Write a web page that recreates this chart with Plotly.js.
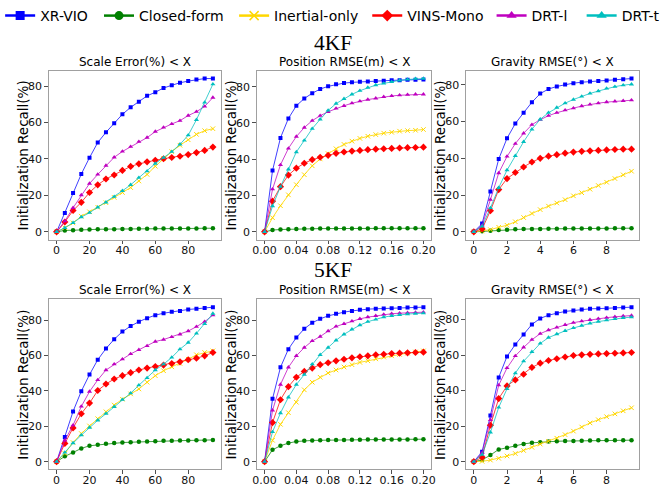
<!DOCTYPE html>
<html>
<head>
<meta charset="utf-8">
<script src="https://cdn.plot.ly/plotly-3.0.1.min.js"></script>
<style>html,body{margin:0;padding:0;background:#fff;}#chart{width:665px;height:487px;}</style>
</head>
<body>
<div id="chart"></div>
<script>
// ---------------- DATA ----------------
var seriesNames = ["XR-VIO", "Closed-form", "Inertial-only", "VINS-Mono", "DRT-l", "DRT-t"];
var groupTitles = ["4KF", "5KF"];
var panelTitles = ["Scale Error(%) < X", "Position RMSE(m) < X", "Gravity RMSE(°) < X"];
var yAxisLabel = "Initialization Recall(%)";

var xScale = [0,5,10,15,20,25,30,35,40,45,50,55,60,65,70,75,80,85,90,95];
var xPos = [0,0.01,0.02,0.03,0.04,0.05,0.06,0.07,0.08,0.09,0.10,0.11,0.12,0.13,0.14,0.15,0.16,0.17,0.18,0.19,0.20];
var xGrav = [0,0.5,1,1.5,2,2.5,3,3.5,4,4.5,5,5.5,6,6.5,7,7.5,8,8.5,9,9.5];

var xTicksScale = [0,20,40,60,80];
var xTicksPos = [0,0.04,0.08,0.12,0.16,0.20];
var xTicksGrav = [0,2,4,6,8];
var yTicks = [0,20,40,60,80];

// 4KF - Scale error
var s4_xr = [0,10.3,21.3,31.7,40.7,49,54.6,59.6,64.5,68.3,71.4,74.6,76.6,78.9,80.4,81.8,82.7,83.6,84.1,84.1];
var s4_cf = [0,0.8,0.9,1.2,1.3,1.4,1.5,1.5,1.6,1.6,1.7,1.7,1.8,1.8,1.8,1.9,1.9,1.9,2.0,2.0];
var s4_in = [0,2.2,4.9,8.6,11,13.5,16,18.9,21.6,24.3,27.9,31.5,36,40.2,44,47.5,50.5,53.5,55.5,56.6];
var s4_vm = [0,5.4,11.7,16.2,21.6,25.8,29,31.2,33.7,35.9,37.3,38.4,39.3,40.1,40.8,41.5,42.4,43.5,44.7,46.5];
var s4_dl = [0,5.9,13.2,20.2,26.5,31.5,36.4,40.9,44.1,46.7,49.5,51.7,55,57.3,59.2,61,63.8,65.9,68.8,73.7];
var s4_dt = [0,2.2,5,8.1,10.5,13.5,16.2,19.3,22.5,25.8,29.7,33.3,37.5,40.7,44,48,53,61.5,71,81];

// 4KF - Position RMSE
var p4_xr = [0,33.8,51.8,62.5,69.5,73.5,76.4,78.7,80.2,81.3,82,82.4,82.7,82.9,83.1,83.3,83.5,83.6,83.8,83.8,84];
var p4_cf = [0,1.0,1.3,1.5,1.6,1.7,1.7,1.8,1.8,1.8,1.9,1.9,1.9,1.9,2.0,2.0,2.0,2.0,2.0,2.0,2.0];
var p4_in = [0,7.8,14.4,20.4,26,31.5,36.4,40.2,43.1,45.8,48.2,50,51.5,52.7,53.6,54.4,54.9,55.5,55.8,56,56.4];
var p4_vm = [0,16.9,24.9,31.3,35.1,37.8,39.8,41.1,42.2,43.3,44,44.5,44.9,45.3,45.6,45.8,46,46.2,46.4,46.5,46.7];
var p4_dl = [0,23.5,36.9,46,52.5,57.5,61.3,64,66.2,68,69.5,70.9,72,72.9,73.6,74.4,74.9,75.3,75.6,75.8,75.8];
var p4_dt = [0,14.2,24.9,34.5,44,50.4,56.9,62,66.9,70.7,73.3,75.8,77.8,79.5,80.9,81.8,82.7,83.5,84,84.4,84.5];

// 4KF - Gravity RMSE
var g4_xr = [0,4.5,22,39.6,50.9,58.9,64.8,70.5,75.2,77.7,79.1,80.2,80.9,81.4,81.8,82.1,82.3,82.7,83,83.4];
var g4_cf = [0,0.3,0.6,1.0,1.2,1.4,1.5,1.6,1.6,1.7,1.7,1.8,1.8,1.8,1.9,1.9,1.9,2.0,2.0,2.0];
var g4_in = [0,0.5,1.2,2.5,3.6,5.5,7.8,10,12.1,14,15.7,17.5,19.6,21.3,23.2,25.2,27,29,31,33];
var g4_vm = [0,1.6,11.5,23,29,32.3,35.3,38,40,41.2,42,42.8,43.4,43.8,44.1,44.3,44.6,44.8,45,45];
var g4_dl = [0,3.5,17.5,32,41,48,53.6,58.3,61,63.2,64.8,66.2,67.3,68.4,69.3,70,70.6,71,71.3,71.6];
var g4_dt = [0,3,13,24,33.6,41.4,49,55.8,61.2,64.8,67.6,70,72,73.7,75.3,76.6,78,79,79.8,80.3];

// 5KF - Scale error
var s5_xr = [0,14,28.4,39.8,49.2,57.6,63.9,69.2,73.5,76.6,79.1,81.1,82.8,83.9,84.7,85.2,86,86.4,86.9,87.3];
var s5_cf = [0,3,5.2,7.5,9,9.5,10.1,10.5,10.8,11,11.2,11.4,11.6,11.8,11.8,12,12,12.1,12.1,12.3];
var s5_in = [0,4.7,10.8,15.9,20.2,24.3,28.2,32,35.3,38.3,41.1,44.9,48.6,51.4,53.6,55.5,57.9,60.4,61.7,62.6];
var s5_vm = [0,10.3,19.1,27.1,33.1,40.2,43.9,46.7,48.6,50.3,51.8,52.9,53.8,54.6,55.5,56.4,57.6,58.5,59.8,61.7];
var s5_dl = [0,12.1,20.6,31.2,39.6,46.2,51.8,55.1,57.9,60.9,63.2,65.4,67.9,69,70.5,72,73.8,76.3,79.1,82.8];
var s5_dt = [0,5.2,10.5,15,19.3,23.4,27.1,31,35,38.7,43.2,47.3,51.8,55.1,58.9,63.6,67.3,72.5,77.9,83.7];

// 5KF - Position RMSE
var p5_xr = [0,35.5,53.3,63.6,70.1,75.1,78.5,80.7,82.4,83.6,84.5,85.2,85.8,86.2,86.4,86.5,86.7,86.9,87.1,87.1,87.3];
var p5_cf = [0,6.7,9,10.5,11.4,11.8,12,12.1,12.2,12.3,12.3,12.4,12.4,12.5,12.5,12.5,12.6,12.6,12.6,12.7,12.7];
var p5_in = [0,12.1,21.1,27.7,33.6,40.6,44.9,47.7,50.1,51.8,53.5,54.8,56.1,57,58.1,59.1,59.8,60.6,61.3,62,62.6];
var p5_vm = [0,22.1,35,42.4,47.7,51,52.9,54.8,55.9,57,57.9,58.7,59.3,59.8,60.4,60.7,61.1,61.3,61.5,61.7,61.9];
var p5_dl = [0,29,43.6,53.3,59.8,64.5,68.2,70.7,73.8,76.4,77.9,79.4,80.7,81.7,82.4,83.2,83.6,83.9,84.1,84.3,84.5];
var p5_dt = [0,16.8,27.5,36.4,43.6,49.2,55.1,60.4,64.5,68.6,72,74.8,77.2,79.1,80.4,81.7,82.4,83,83.4,83.7,83.9];

// 5KF - Gravity RMSE
var g5_xr = [0,5.6,26,47.4,59.2,65.9,71.6,77.2,80.6,82.4,83.5,84.5,85,85.6,86,86.1,86.3,86.5,86.7,86.9];
var g5_cf = [0,1,3.7,6.9,7.8,8.9,10,10.6,11,11.3,11.5,11.6,11.7,11.8,11.9,12,12,12.1,12.1,12.1];
var g5_in = [0,0.2,0.9,1.9,3.2,4.6,6.3,8.1,9.9,11.5,13.2,15.2,17.2,19.5,21.8,23.6,25.3,26.9,28.6,30.3];
var g5_vm = [0,2.5,20.5,35.5,42.6,46,49.2,53,55.4,56.9,57.9,58.9,59.7,60.1,60.4,60.6,60.8,61,61.2,61.4];
var g5_dl = [0,5,23.5,43,52.7,59.5,64.3,68.6,72,74,75.5,77,78.2,79,79.8,80.4,81,81.5,81.9,82.2];
var g5_dt = [0,4,16.5,30.5,41,49.8,56.5,61.8,66.5,69.8,71.8,73.6,75.2,76.6,77.8,78.8,79.6,80.3,80.9,81.3];

// ---------------- STYLE ----------------
var W = 665, H = 487;
var colors = ["#0000ff", "#008000", "#ffd700", "#ff0000", "#bf00bf", "#00bfbf"];
var lineColors = ["rgba(0,0,255,0.75)", "rgba(0,128,0,0.75)", "rgba(255,215,0,0.85)", "rgba(255,0,0,0.75)", "rgba(191,0,191,0.75)", "rgba(0,191,191,0.75)"];
var symbols = ["square", "circle", "x-thin", "diamond", "triangle-up", "triangle-up"];
var mSizes = [4, 4.5, 4.5, 5.5, 4.5, 4.5];

var panels = [
  {x: xScale, ys: [s4_xr, s4_cf, s4_in, s4_vm, s4_dl, s4_dt], ticks: xTicksScale, fmt: "", row: 0, col: 0},
  {x: xPos,   ys: [p4_xr, p4_cf, p4_in, p4_vm, p4_dl, p4_dt], ticks: xTicksPos, fmt: ".2f", row: 0, col: 1},
  {x: xGrav,  ys: [g4_xr, g4_cf, g4_in, g4_vm, g4_dl, g4_dt], ticks: xTicksGrav, fmt: "", row: 0, col: 2},
  {x: xScale, ys: [s5_xr, s5_cf, s5_in, s5_vm, s5_dl, s5_dt], ticks: xTicksScale, fmt: "", row: 1, col: 0},
  {x: xPos,   ys: [p5_xr, p5_cf, p5_in, p5_vm, p5_dl, p5_dt], ticks: xTicksPos, fmt: ".2f", row: 1, col: 1},
  {x: xGrav,  ys: [g5_xr, g5_cf, g5_in, g5_vm, g5_dl, g5_dt], ticks: xTicksGrav, fmt: "", row: 1, col: 2}
];

var colPx = [[42.7, 218.3], [255, 433.5], [468.8, 646]];
var rowPx = [[68.3, 238], [298.3, 469.3]];

var layout = {
  width: W, height: H,
  margin: {l: 0, r: 0, t: 0, b: 0},
  paper_bgcolor: "#ffffff", plot_bgcolor: "#ffffff",
  font: {family: "DejaVu Sans", size: 11, color: "#000"},
  showlegend: true,
  annotations: []
};

var traces = [];
panels.forEach(function (p, k) {
  var n = k + 1;
  var xa = "xaxis" + (n === 1 ? "" : n), ya = "yaxis" + (n === 1 ? "" : n);
  var xr = "x" + (n === 1 ? "" : n), yr = "y" + (n === 1 ? "" : n);
  var xmax = Math.max.apply(null, p.x), xmin = Math.min.apply(null, p.x);
  var ymax = -Infinity, ymin = Infinity;
  p.ys.forEach(function (arr) { arr.forEach(function (v) { if (v > ymax) ymax = v; if (v < ymin) ymin = v; }); });
  var dx = (xmax - xmin) * 0.05, dy = (ymax - ymin) * 0.05;
  var cp = colPx[p.col], rp = rowPx[p.row];
  var axCommon = {
    showline: true, mirror: true, linecolor: "#a0a0a0", linewidth: 1,
    showgrid: false, zeroline: false, ticks: "outside", ticklen: 3.5, tickwidth: 0.8,
    tickcolor: "#222", tickfont: {family: "DejaVu Sans", size: 11, color: "#111"}
  };
  layout[xa] = Object.assign({}, axCommon, {
    domain: [cp[0] / W, cp[1] / W], anchor: yr,
    range: [xmin - dx, xmax + dx], tickmode: "array", tickvals: p.ticks,
    ticktext: p.ticks.map(function (t) { return p.fmt ? t.toFixed(2) : String(t); }),
    ticklabelstandoff: -3
  });
  layout[ya] = Object.assign({}, axCommon, {
    domain: [1 - rp[1] / H, 1 - rp[0] / H], anchor: xr,
    range: [ymin - dy, ymax + dy], tickmode: "array", tickvals: yTicks
  });
  p.ys.forEach(function (arr, i) {
    traces.push({
      type: "scatter", mode: "lines+markers", x: p.x, y: arr, xaxis: xr, yaxis: yr,
      name: seriesNames[i], showlegend: false, hoverinfo: "skip",
      line: {color: lineColors[i], width: 1},
      marker: {color: colors[i], symbol: symbols[i], size: mSizes[i],
               line: {color: colors[i], width: symbols[i] === "x-thin" ? 1 : 0}}
    });
  });
  // panel title
  layout.annotations.push({
    xref: "paper", yref: "paper", x: (cp[0] + cp[1]) / 2 / W, y: 1 - (rp[0] - 1) / H,
    xanchor: "center", yanchor: "bottom", showarrow: false, text: panelTitles[p.col],
    font: {family: "DejaVu Sans", size: 12, color: "#000"}, borderpad: 0
  });
  // y-axis label
  layout.annotations.push({
    xref: "paper", yref: "paper", x: (cp[0] - 26) / W, y: 1 - (rp[0] + rp[1]) / 2 / H,
    xanchor: "center", yanchor: "middle", showarrow: false, textangle: -90, text: yAxisLabel,
    font: {family: "DejaVu Sans", size: 13.5, color: "#000"}
  });
});

// group titles
[40, 269].forEach(function (yc, r) {
  layout.annotations.push({
    xref: "paper", yref: "paper", x: 0.5, y: 1 - yc / H, xanchor: "center", yanchor: "middle",
    showarrow: false, text: groupTitles[r], borderpad: 0,
    font: {family: "Liberation Serif", size: 21.5, color: "#000"}
  });
});

// legend: one legend per entry, placed like the reference
var legendTextStart = [33, 134, 272, 408, 535, 627];
seriesNames.forEach(function (nm, i) {
  var key = "legend" + (i === 0 ? "" : (i + 1));
  layout[key] = {
    orientation: "h", x: (legendTextStart[i] - 40) / W, xanchor: "left",
    y: 1 - 13 / H, yanchor: "middle", bgcolor: "rgba(0,0,0,0)", borderwidth: 0,
    font: {family: "DejaVu Sans", size: 14, color: "#000"}, itemwidth: 30
  };
  traces.push({
    type: "scatter", mode: "lines+markers", x: [null], y: [null], xaxis: "x", yaxis: "y",
    name: nm, legend: (i === 0 ? "legend" : "legend" + (i + 1)), showlegend: true, hoverinfo: "skip",
    line: {color: colors[i], width: 2.5},
    marker: {color: colors[i], symbol: symbols[i], size: 9,
             line: {color: colors[i], width: symbols[i] === "x-thin" ? 1.5 : 0}}
  });
});

Plotly.newPlot("chart", traces, layout, {displayModeBar: false, staticPlot: true});
</script>
</body>
</html>
